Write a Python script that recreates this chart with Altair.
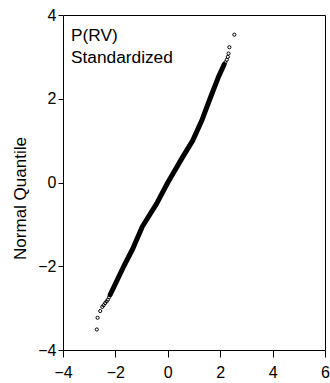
import altair as alt
import pandas as pd

# Dense central band of the Q-Q plot (centerline)
band_x = [-2.20, -2.06, -1.68, -1.35, -0.97, -0.42, 0.00, 0.56, 0.95, 1.31, 1.61, 1.92, 2.15]
band_y = [-2.68, -2.50, -2.00, -1.60, -1.05, -0.50, 0.00, 0.60, 1.00, 1.50, 2.00, 2.50, 2.82]

# Sparse tail points (individual open circles)
tail_x = [-2.71, -2.68, -2.58, -2.50, -2.45, -2.39, -2.34, -2.29, -2.24,
          2.20, 2.25, 2.29, 2.32, 2.35, 2.54]
tail_y = [-3.51, -3.23, -3.07, -2.97, -2.93, -2.88, -2.84, -2.80, -2.74,
          2.87, 2.93, 3.00, 3.08, 3.23, 3.53]

x_ticks = [-4, -2, 0, 2, 4, 6]
y_ticks = [-4, -2, 0, 2, 4]
note_lines = ["P(RV)", "Standardized"]

FONT = "Liberation Sans"

band = pd.DataFrame({"x": band_x, "y": band_y, "order": list(range(len(band_x)))})
tails = pd.DataFrame({"x": tail_x, "y": tail_y})
note = pd.DataFrame({"label": ["\n".join(note_lines)]})

xs = alt.Scale(domain=[-4, 6], nice=False, zero=False)
ys = alt.Scale(domain=[-4, 4], nice=False, zero=False)

x_axis = alt.Axis(values=x_ticks, title=None, grid=False, domain=False,
                  tickSize=7, tickColor="black", labelPadding=7,
                  labelFont=FONT, labelFontSize=16, labelColor="black",
                  labelFlush=False, labelOverlap=False)
y_axis = alt.Axis(values=y_ticks, title="Normal Quantile", grid=False, domain=False,
                  tickSize=5, tickColor="black", labelPadding=2,
                  labelFont=FONT, labelFontSize=16, labelColor="black",
                  labelFlush=False, labelOverlap=False,
                  titleFont=FONT, titleFontSize=17, titleFontWeight="normal",
                  titleColor="black", titleX=-43, titleY=183,
                  titleAlign="center", titleBaseline="middle", titleAngle=270)

band_layer = alt.Chart(band).mark_line(
    color="black", strokeWidth=5, strokeCap="round", strokeJoin="round"
).encode(
    x=alt.X("x:Q", scale=xs, axis=x_axis),
    y=alt.Y("y:Q", scale=ys, axis=y_axis),
    order="order:Q",
)

tail_layer = alt.Chart(tails).mark_point(
    shape="circle", filled=False, size=10, strokeWidth=1, color="black", opacity=1
).encode(x=alt.X("x:Q", scale=xs), y=alt.Y("y:Q", scale=ys))

note_layer = alt.Chart(note).mark_text(
    align="left", baseline="top", font=FONT, fontSize=17.3, color="black",
    lineBreak="\n", lineHeight=22
).encode(text="label:N", x=alt.value(8), y=alt.value(11.5))

chart = alt.layer(band_layer, tail_layer, note_layer).properties(
    width=262, height=335,
    autosize=alt.AutoSizeParams(type="none"),
    padding={"left": 63, "top": 15, "right": 5, "bottom": 33},
    background="white",
).configure_view(stroke="black", strokeWidth=1)

chart.save("out.html", embed_options={"renderer": "svg", "actions": False})
